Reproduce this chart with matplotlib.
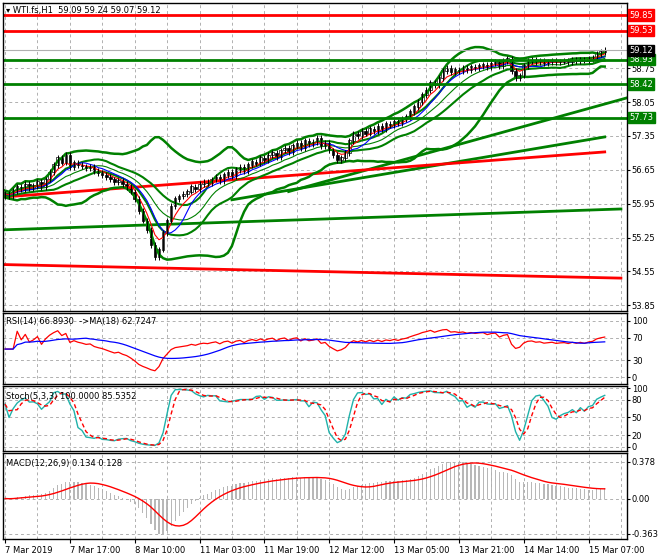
import matplotlib

matplotlib.use("Agg")
import matplotlib.pyplot as plt
import numpy as np
import pandas as pd

# hourly closes, WTI.fs H1
closes = [
    56.15, 56.10, 56.22, 56.30, 56.25, 56.35, 56.28, 56.32, 56.40, 56.30,
    56.45, 56.60, 56.75, 56.90, 56.80, 56.95, 56.70, 56.80, 56.75, 56.72,
    56.68, 56.70, 56.62, 56.58, 56.55, 56.50, 56.45, 56.40, 56.42, 56.35,
    56.30, 56.20, 56.05, 55.80, 55.60, 55.40, 55.10, 54.85, 55.00, 55.35,
    55.60, 55.90, 56.05, 56.10, 56.15, 56.20, 56.30, 56.25, 56.35, 56.40,
    56.38, 56.45, 56.50, 56.42, 56.55, 56.60, 56.52, 56.65, 56.70, 56.62,
    56.75, 56.82, 56.78, 56.90, 56.85, 56.95, 57.00, 56.92, 57.05, 57.10,
    57.02, 57.15, 57.20, 57.10, 57.25, 57.18, 57.22, 57.30, 57.15, 57.20,
    57.05, 56.95, 56.85, 56.90, 57.00, 57.25, 57.40, 57.35, 57.45, 57.40,
    57.50, 57.45, 57.55, 57.50, 57.60, 57.58, 57.65, 57.62, 57.70, 57.75,
    57.85, 57.95, 58.05, 58.20, 58.30, 58.45, 58.40, 58.55, 58.70, 58.75,
    58.68, 58.72, 58.70, 58.75, 58.72, 58.78, 58.76, 58.80, 58.82, 58.78,
    58.85, 58.88, 58.80, 58.90, 58.95, 58.70, 58.55, 58.60, 58.80, 58.90,
    58.92, 58.88, 58.90, 58.86, 58.88, 58.90, 58.87, 58.89, 58.90, 58.88,
    58.92, 58.90, 58.93, 58.91, 58.95, 58.97, 59.05, 59.09, 59.12,
]
first_open = 56.10

time_labels = ["7 Mar 2019", "7 Mar 17:00", "8 Mar 10:00", "11 Mar 03:00", "11 Mar 19:00",
               "12 Mar 12:00", "13 Mar 05:00", "13 Mar 21:00", "14 Mar 14:00", "15 Mar 07:00"]

# horizontal levels
levels_red = [59.85, 59.53]
levels_green = [58.93, 58.42, 57.73]
last_price = 59.12

# trend lines: (bar0, price0, bar1, price1)
trend_green = [(0, 55.41, 152, 55.84), (56, 56.03, 148, 57.33), (70, 56.20, 154, 58.15)]
trend_red = [(0, 56.09, 148, 57.02), (0, 54.69, 152, 54.41)]

main_ticks = [53.85, 54.55, 55.25, 55.95, 56.65, 57.35, 58.05, 58.75]

RED = "#ff0000"
GREEN = "#008000"
C = "#000000"
FS = 6

s = pd.Series(closes)
n = len(s)
x = np.arange(n)
opens = np.r_[first_open, s.values[:-1]]

# indicators
ma_mid = s.rolling(20, min_periods=1).mean()
sd = s.rolling(20, min_periods=2).std().bfill()
ema5 = s.ewm(span=5, adjust=False).mean()
sma8 = s.rolling(8, min_periods=1).mean()
sma13 = s.rolling(13, min_periods=1).mean()

delta = s.diff().fillna(0)
up = delta.clip(lower=0).ewm(alpha=1 / 14, adjust=False).mean()
dn = (-delta.clip(upper=0)).ewm(alpha=1 / 14, adjust=False).mean()
rsi = 100 - 100 / (1 + up / dn.replace(0, 1e-9))
rsi = rsi.clip(5, 95)
rsi.iloc[:3] = 50
rsi_ma = rsi.rolling(18, min_periods=1).mean()

hi = np.maximum(opens, s.values) + 0.03
lo = np.minimum(opens, s.values) - 0.03
hh = pd.Series(hi).rolling(5, min_periods=1).max()
ll = pd.Series(lo).rolling(5, min_periods=1).min()
k = ((s - ll).rolling(3, min_periods=1).sum() / (hh - ll).rolling(3, min_periods=1).sum() * 100)
d = k.rolling(3, min_periods=1).mean()

macd = s.ewm(span=12, adjust=False).mean() - s.ewm(span=26, adjust=False).mean()
signal = macd.rolling(9, min_periods=1).mean()

W, H = 660, 560
fig = plt.figure(figsize=(6.6, 5.6), dpi=100)
fig.patch.set_facecolor("white")


def add_ax(top, bottom):
    return fig.add_axes([3 / W, 1 - bottom / H, 624 / W, (bottom - top) / H])


ax = add_ax(3, 311)
ax_rsi = add_ax(313, 384)
ax_st = add_ax(386, 451)
ax_m = add_ax(453, 539)
xl = (-0.5, 153.5)

for a in (ax, ax_rsi, ax_st, ax_m):
    a.set_xlim(*xl)
    a.set_xticks(np.arange(0, 154, 16))
    a.set_xticks(np.arange(8, 154, 16), minor=True)
    a.tick_params(axis="x", which="both", length=0, labelbottom=False)
    a.grid(True, which="both", color="#b0b0b0", linestyle=(0, (3, 3)), linewidth=0.7)
    a.yaxis.tick_right()
    a.tick_params(axis="y", labelsize=FS, length=2, pad=1.5)
    for sp in a.spines.values():
        sp.set_linewidth(1)

# main panel
ax.set_ylim(53.73, 60.1)
ax.set_yticks(main_ticks)
ax.set_yticklabels([f"{t:.2f}" for t in main_ticks])
for b0, p0, b1, p1 in trend_green:
    ax.plot([b0, b1], [p0, p1], color=GREEN, lw=2)
for b0, p0, b1, p1 in trend_red:
    ax.plot([b0, b1], [p0, p1], color=RED, lw=2)
ax.plot(x, ma_mid + 2 * sd, color=GREEN, lw=1.8)
ax.plot(x, ma_mid - 2 * sd, color=GREEN, lw=1.8)
ax.plot(x, sma13 + 0.6 * sd, color=GREEN, lw=1.5)
ax.plot(x, sma13 - 0.6 * sd, color=GREEN, lw=1.5)
ax.plot(x, sma13, color=GREEN, lw=0.8)
ax.plot(x, sma8, color="#0000ff", lw=0.8)
ax.plot(x, ema5, color=RED, lw=0.8)
ax.vlines(x, lo - 0.03, hi + 0.03, color=C, lw=0.7)
bull = s.values >= opens
ax.bar(x[bull], (s.values - opens)[bull] + 0.01, bottom=opens[bull], width=0.6,
       color="white", edgecolor=C, linewidth=0.5)
ax.bar(x[~bull], (opens - s.values)[~bull], bottom=s.values[~bull], width=0.6,
       color=C, edgecolor=C, linewidth=0.5)


def tag(p, fc):
    ax.text(1.004, p, f"{p:.2f}", transform=ax.get_yaxis_transform(), va="center",
            ha="left", fontsize=FS, color="white",
            bbox=dict(boxstyle="square,pad=0.15", fc=fc, ec=fc))


for p in levels_red:
    ax.axhline(p, color=RED, lw=2)
    tag(p, RED)
for p in levels_green:
    ax.axhline(p, color=GREEN, lw=2)
    tag(p, GREEN)
ax.axhline(last_price, color="#b0b0b0", lw=0.8)
tag(last_price, "black")
ax.text(0.005, 0.99, "▾ WTI.fs,H1  59.09 59.24 59.07 59.12", transform=ax.transAxes,
        va="top", fontsize=FS)

# RSI
ax_rsi.set_ylim(-12, 114)
ax_rsi.set_yticks([0, 30, 70, 100])
ax_rsi.plot(x, rsi, color=RED, lw=0.9)
ax_rsi.plot(x, rsi_ma, color="#0000ff", lw=0.9)
ax_rsi.text(0.005, 0.95, "RSI(14) 66.8930  ->MA(18) 62.7247", transform=ax_rsi.transAxes,
            va="top", fontsize=FS)

# Stochastic
ax_st.set_ylim(-6.8, 103.4)
ax_st.set_yticks([0, 20, 50, 80, 100])
ax_st.plot(x, k, color="#20b2aa", lw=1)
ax_st.plot(x, d, color=RED, lw=1, linestyle=(0, (3, 2)))
ax_st.text(0.005, 0.9, "Stoch(5,3,3) 100.0000 85.5352", transform=ax_st.transAxes,
           va="top", fontsize=FS)

# MACD
mx, mn = macd.max(), macd.min()
span = mx - mn
ax_m.set_ylim(mn - 0.07 * span, mx + 0.12 * span)
ax_m.set_yticks([mn, 0, mx])
ax_m.set_yticklabels([f"{mn:.3f}", "0.00", f"{mx:.3f}"])
ax_m.bar(x, macd, width=0.3, color="#b8b8b8")
ax_m.plot(x, signal, color=RED, lw=1)
ax_m.text(0.005, 0.93, "MACD(12,26,9) 0.134 0.128", transform=ax_m.transAxes,
          va="top", fontsize=FS)
ax_m.tick_params(axis="x", which="major", length=3, labelbottom=True, labelsize=FS, pad=2)
ax_m.set_xticklabels(time_labels, ha="left")

fig.savefig("out.png", dpi=100, facecolor="white")
